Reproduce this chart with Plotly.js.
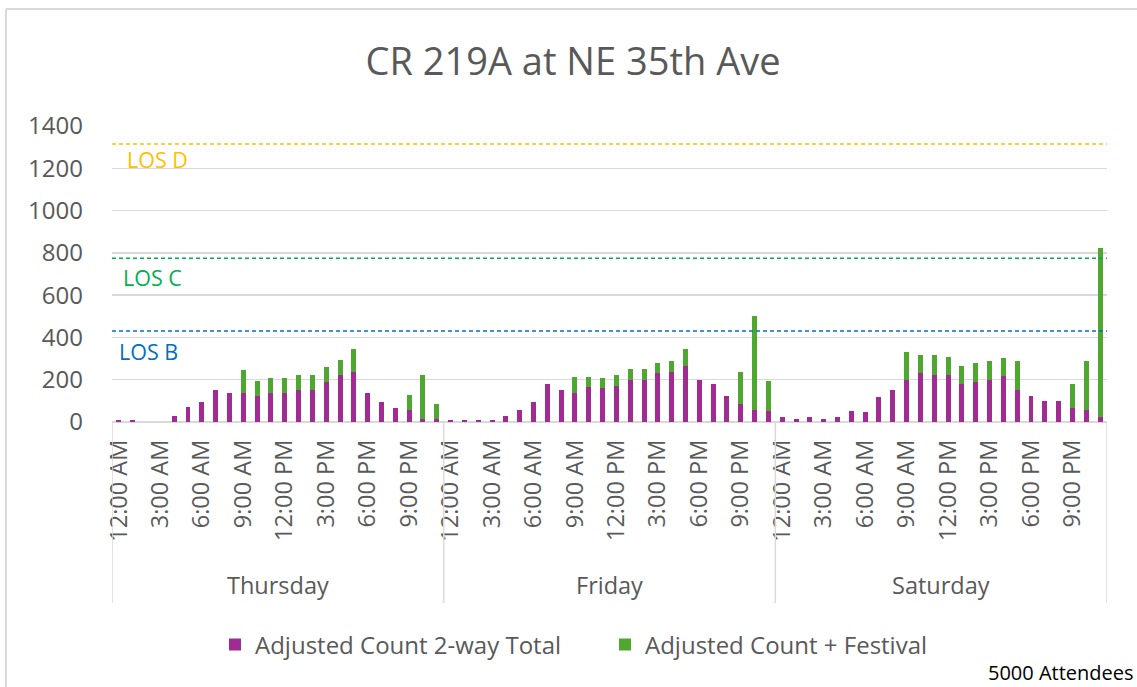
<!DOCTYPE html>
<html>
<head>
<meta charset="utf-8">
<script src="https://cdn.plot.ly/plotly-3.0.1.min.js"></script>
<style>
  html, body { margin: 0; padding: 0; background: #ffffff; }
  #chart { width: 1137px; height: 687px; }
</style>
</head>
<body>
<div id="chart"></div>
<script>
// ---- Data ----
const DAYS = ["Thursday", "Friday", "Saturday"];
const HOUR_TICK_LABELS = ["12:00 AM", "3:00 AM", "6:00 AM", "9:00 AM", "12:00 PM", "3:00 PM", "6:00 PM", "9:00 PM"];
const HOUR_TICK_STEP = 3;
const HOURS_PER_DAY = 24;

// Adjusted Count 2-way Total (hourly, per day)
const thuBase = [10, 10, 0, 0, 30, 73, 96, 153, 139, 137, 123, 137, 137, 151, 151, 188, 222, 237, 137, 95, 66, 59, 14, 14];
const friBase = [10, 10, 10, 10, 30, 59, 95, 180, 151, 137, 166, 159, 172, 200, 200, 230, 237, 265, 200, 180, 123, 87, 59, 51];
const satBase = [22, 16, 22, 16, 22, 52, 46, 117, 151, 200, 230, 222, 222, 180, 188, 200, 216, 151, 123, 101, 101, 66, 58, 22];

// Adjusted Count + Festival (hourly, per day)
const thuFest = [10, 10, 0, 0, 30, 73, 96, 153, 139, 245, 194, 208, 208, 224, 224, 259, 295, 344, 137, 95, 66, 130, 224, 87];
const friFest = [10, 10, 10, 10, 30, 59, 95, 180, 151, 215, 215, 208, 222, 251, 251, 281, 287, 344, 200, 180, 123, 237, 501, 194];
const satFest = [22, 16, 22, 16, 22, 52, 46, 117, 151, 330, 316, 316, 309, 265, 279, 287, 301, 287, 123, 101, 101, 180, 287, 825];

// Level of service thresholds
const LOS_NAMES = ["LOS D", "LOS C", "LOS B"];
const LOS_VALUES = [1315, 775, 430];

const SERIES_NAMES = ["Adjusted Count 2-way Total", "Adjusted Count + Festival"];
const NOTE = "5000 Attendees";
const TITLE = "CR 219A at NE 35th Ave";

// ---- Build ----
const baseAll = thuBase.concat(friBase, satBase);
const festAll = thuFest.concat(friFest, satFest);
const xIdx = baseAll.map((_, i) => i);

const tickvals = [], ticktext = [];
DAYS.forEach((d, di) => {
  HOUR_TICK_LABELS.forEach((lab, k) => {
    tickvals.push(di * HOURS_PER_DAY + k * HOUR_TICK_STEP);
    ticktext.push(lab);
  });
});

const FONT = "Open Sans, Noto Sans, Arial, sans-serif";
const GREY = "#595959";
const GRID = "#d9d9d9";
const PURPLE = "#A02B93";
const GREEN = "#4EA72E";
const LOS_COLORS = ["#FFC000", "#00B050", "#0070C0"];

// layout geometry (pixels)
const W = 1137, H = 687;
const M = { l: 112, r: 30, t: 126, b: 265 };
const PW = W - M.l - M.r, PH = H - M.t - M.b;
const px = x => (x - M.l) / PW;
const py = y => (H - M.b - y) / PH;

const traces = [
  {
    type: "bar", x: xIdx, y: festAll, name: SERIES_NAMES[1],
    marker: { color: GREEN }, width: 0.36, legendrank: 2,
    hoverinfo: "y"
  },
  {
    type: "bar", x: xIdx, y: baseAll, name: SERIES_NAMES[0],
    marker: { color: PURPLE }, width: 0.36, legendrank: 1,
    hoverinfo: "y"
  }
];

const nTotal = DAYS.length * HOURS_PER_DAY;
const shapes = [];
// outer chart border (top and left edges visible)
shapes.push({
  type: "line", xref: "paper", yref: "paper",
  x0: px(6), x1: px(1137), y0: py(9), y1: py(9),
  line: { color: GRID, width: 2 }, layer: "below"
});
shapes.push({
  type: "line", xref: "paper", yref: "paper",
  x0: px(6), x1: px(6), y0: py(9), y1: py(687),
  line: { color: GRID, width: 2 }, layer: "below"
});
// day separators
for (let d = 0; d <= DAYS.length; d++) {
  shapes.push({
    type: "line", xref: "x", yref: "paper",
    x0: d * HOURS_PER_DAY - 0.5, x1: d * HOURS_PER_DAY - 0.5,
    y0: py(603), y1: 0,
    line: { color: GRID, width: 1.5 }
  });
}
// LOS lines
LOS_VALUES.forEach((v, i) => {
  shapes.push({
    type: "line", xref: "paper", yref: "y",
    x0: 0, x1: 1, y0: v, y1: v,
    line: { color: LOS_COLORS[i], width: 1.5, dash: "4px,3px" }
  });
});

const annotations = [];
DAYS.forEach((d, di) => {
  annotations.push({
    xref: "x", yref: "paper", x: di * HOURS_PER_DAY + (HOURS_PER_DAY - 1) / 2, y: py(585),
    text: d, showarrow: false, xanchor: "center", yanchor: "middle",
    font: { family: FONT, size: 23.5, color: GREY }
  });
});
const LOS_LABEL_POS = [[125, 159], [121, 277], [117, 351]];
LOS_NAMES.forEach((n, i) => {
  annotations.push({
    xref: "paper", yref: "paper", x: px(LOS_LABEL_POS[i][0]), y: py(LOS_LABEL_POS[i][1]),
    text: n, showarrow: false, xanchor: "left", yanchor: "middle",
    font: { family: FONT, size: 21.5, color: LOS_COLORS[i] }
  });
});
annotations.push({
  xref: "paper", yref: "paper", x: px(1135), y: py(672),
  text: NOTE, showarrow: false, xanchor: "right", yanchor: "middle",
  font: { family: FONT, size: 20, color: "#000000" }, borderpad: 0
});

const layout = {
  width: W, height: H,
  margin: M,
  paper_bgcolor: "#ffffff", plot_bgcolor: "#ffffff",
  font: { family: FONT, color: GREY },
  title: {
    text: TITLE, x: 573 / W, xanchor: "center", y: 1 - 62 / H, yanchor: "middle",
    font: { family: FONT, size: 38, color: GREY }
  },
  barmode: "overlay",
  bargap: 0,
  xaxis: {
    range: [-0.5, nTotal - 0.5],
    tickmode: "array", tickvals: tickvals, ticktext: ticktext,
    tickangle: -90, ticks: "", ticklabelstandoff: 12,
    showgrid: false, zeroline: false, showline: false,
    tickfont: { family: FONT, size: 23.5, color: GREY },
    fixedrange: true
  },
  yaxis: {
    range: [0, 1400], dtick: 200, tick0: 0,
    showgrid: true, gridcolor: GRID, gridwidth: 1.5,
    zeroline: true, zerolinecolor: GRID, zerolinewidth: 1.5,
    showline: false, ticks: "", ticklabelstandoff: 28,
    tickfont: { family: FONT, size: 24, color: GREY },
    fixedrange: true
  },
  showlegend: true,
  legend: {
    orientation: "h", x: px(215), xanchor: "left", y: py(645), yanchor: "middle",
    font: { family: FONT, size: 24, color: GREY },
    traceorder: "normal", itemwidth: 30,
    entrywidth: 345, entrywidthmode: "pixels"
  },
  shapes: shapes,
  annotations: annotations
};

Plotly.newPlot("chart", traces, layout, { displayModeBar: false, staticPlot: true });
</script>
</body>
</html>
